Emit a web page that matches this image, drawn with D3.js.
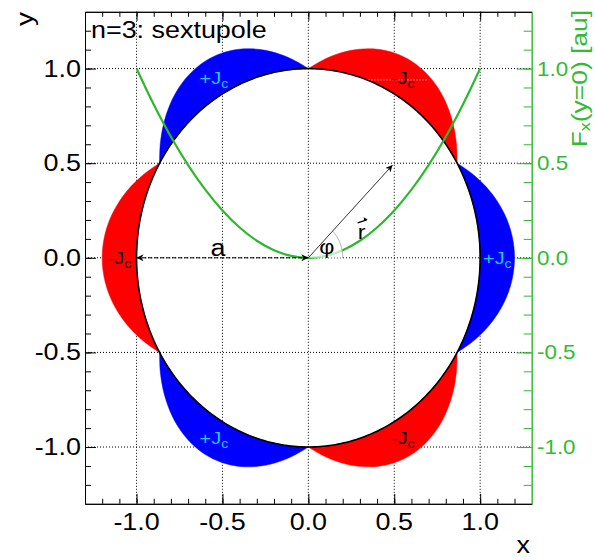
<!DOCTYPE html>
<html><head><meta charset="utf-8">
<script src="https://cdn.jsdelivr.net/npm/d3@7"></script>
<style>
body{margin:0;background:#fff;}
svg{display:block;}
text{font-family:"Liberation Sans",Arial,Helvetica,sans-serif;}
</style>
</head><body>
<svg id="c" width="595" height="560"></svg>
<script>
// ---------- data ----------
const xTickValues = [-1.0, -0.5, 0.0, 0.5, 1.0];
const xTickLabels = ["-1.0", "-0.5", "0.0", "0.5", "1.0"];
const yTickValues = [-1.0, -0.5, 0.0, 0.5, 1.0];
const yTickLabels = ["-1.0", "-0.5", "0.0", "0.5", "1.0"];
const fTickValues = [-1.0, -0.5, 0.0, 0.5, 1.0];
const fTickLabels = ["-1.0", "-0.5", "0.0", "0.5", "1.0"];
const minorTicks = [-1.2,-1.1,-1.0,-0.9,-0.8,-0.7,-0.6,-0.5,-0.4,-0.3,-0.2,-0.1,0,0.1,0.2,0.3,0.4,0.5,0.6,0.7,0.8,0.9,1.0,1.1,1.2];

// F_x(y=0) curve
const curveX = [-1.0,-0.9,-0.8,-0.7,-0.6,-0.5,-0.4,-0.3,-0.2,-0.1,0.0,0.1,0.2,0.3,0.4,0.5,0.6,0.7,0.8,0.9,1.0];
const curveF = [1.00,0.81,0.64,0.49,0.36,0.25,0.16,0.09,0.04,0.01,0.00,0.01,0.04,0.09,0.16,0.25,0.36,0.49,0.64,0.81,1.00];

// current lobes: thickness beyond the unit circle vs angular offset from lobe centre
const lobeOffsets   = [0, 5, 10, 15, 20, 25, 30];
const lobeThickness = [0.200, 0.193, 0.173, 0.141, 0.100, 0.052, 0.000];
const lobeCentres   = [0, 60, 120, 180, 240, 300];
const lobeSigns     = [1, -1, 1, -1, 1, -1];
const lobeLabels    = ["+J", "-J", "+J", "-J", "+J", "-J"];
const labelRadius   = 1.1;

const rArrowEnd = [0.49, 0.49];
const aArrow = [[0, 0], [-1, 0]];

// ---------- setup ----------
const L = 85, R = 531.7, T = 11.8, B = 503.8;
const SX = 1.17;
const GREEN = "#2db82d", GREEN_TXT = "#33bb33";
const svg = d3.select("#c");
const x = d3.scaleLinear().domain([-1.3, 1.3]).range([L, R]);
const y = d3.scaleLinear().domain([-1.3, 1.3]).range([B, T]);
const rad = d => d * Math.PI / 180;

function txt(parent, px, py, s, o = {}) {
  const g = parent.append("g")
    .attr("transform", `translate(${px},${py}) rotate(${o.rot || 0}) scale(${o.sx || SX},1)`);
  const t = g.append("text")
    .attr("text-anchor", o.anchor || "start")
    .attr("font-size", o.size || 23)
    .attr("fill", o.fill || "#000");
  if (s !== null) t.text(s);
  return t;
}

const defs = svg.append("defs");
defs.append("clipPath").attr("id", "clip").append("rect")
  .attr("x", L).attr("y", T).attr("width", R - L).attr("height", B - T);
defs.append("marker").attr("id", "ah").attr("viewBox", "0 0 10 10")
  .attr("refX", 10).attr("refY", 5).attr("markerWidth", 9).attr("markerHeight", 7)
  .attr("markerUnits", "userSpaceOnUse").attr("orient", "auto-start-reverse")
  .append("path").attr("d", "M0,0 L10,5 L0,10 L3,5 Z").attr("fill", "#000");

// ---------- grid ----------
const grid = svg.append("g").attr("stroke", "#000").attr("stroke-width", 1)
  .attr("stroke-dasharray", "1,2");
xTickValues.forEach(v => grid.append("line")
  .attr("x1", x(v)).attr("x2", x(v)).attr("y1", T).attr("y2", B));
yTickValues.forEach(v => grid.append("line")
  .attr("y1", y(v)).attr("y2", y(v)).attr("x1", L).attr("x2", R));

// ---------- lobes ----------
const plot = svg.append("g").attr("clip-path", "url(#clip)");
const lineXY = d3.line().x(d => x(d[0])).y(d => y(d[1]));
lobeCentres.forEach((c, k) => {
  const outer = [];
  for (let i = lobeOffsets.length - 1; i >= 0; i--) {
    const a = c - lobeOffsets[i], r = 1 + lobeThickness[i];
    outer.push([r * Math.cos(rad(a)), r * Math.sin(rad(a))]);
  }
  for (let i = 1; i < lobeOffsets.length; i++) {
    const a = c + lobeOffsets[i], r = 1 + lobeThickness[i];
    outer.push([r * Math.cos(rad(a)), r * Math.sin(rad(a))]);
  }
  const inner = d3.range(30, -30.5, -1).map(o => [Math.cos(rad(c + o)), Math.sin(rad(c + o))]);
  const dOuter = d3.line().x(d => x(d[0])).y(d => y(d[1])).curve(d3.curveCatmullRom.alpha(0.5))(outer);
  const dInner = lineXY(inner).replace(/^M/, "L");
  plot.append("path").attr("d", dOuter + dInner + "Z")
    .attr("fill", lobeSigns[k] > 0 ? "#0000ff" : "#ff0000")
    .attr("stroke", lobeSigns[k] > 0 ? "#0000ff" : "#ff0000").attr("stroke-width", 0.5);
});

// white dotted line in upper red lobe
plot.append("line").attr("x1", x(0.35)).attr("x2", x(0.70)).attr("y1", y(0.94)).attr("y2", y(0.94))
  .attr("stroke", "#fff").attr("stroke-width", 1).attr("stroke-dasharray", "1,2");

// unit circle
const circ = d3.range(0, 361, 1).map(a => [Math.cos(rad(a)), Math.sin(rad(a))]);
plot.append("path").attr("d", lineXY(circ)).attr("fill", "none")
  .attr("stroke", "#000").attr("stroke-width", 1.6);

// green curve
const cd = curveX.map((v, i) => [v, curveF[i]]);
plot.append("path")
  .attr("d", d3.line().x(d => x(d[0])).y(d => y(d[1])).curve(d3.curveCatmullRom)(cd))
  .attr("fill", "none").attr("stroke", GREEN).attr("stroke-width", 2.2);

// angle wedge
const wedge = [[0, 0]].concat(d3.range(0, 45.5, 1).map(a => [0.2 * Math.cos(rad(a)), 0.2 * Math.sin(rad(a))]));
plot.append("path").attr("d", lineXY(wedge) + "Z").attr("fill", "#fff").attr("fill-opacity", 0.7)
  .attr("stroke", "none");
plot.append("path").attr("d", lineXY(wedge.slice(1))).attr("fill", "none")
  .attr("stroke", "#aaa").attr("stroke-width", 1);

// arrows
plot.append("line").attr("x1", x(aArrow[0][0])).attr("y1", y(aArrow[0][1]))
  .attr("x2", x(aArrow[1][0])).attr("y2", y(aArrow[1][1]))
  .attr("stroke", "#000").attr("stroke-width", 1).attr("stroke-dasharray", "4,2")
  .attr("marker-start", "url(#ah)").attr("marker-end", "url(#ah)");
plot.append("line").attr("x1", x(0)).attr("y1", y(0))
  .attr("x2", x(rArrowEnd[0])).attr("y2", y(rArrowEnd[1]))
  .attr("stroke", "#333").attr("stroke-width", 1).attr("marker-end", "url(#ah)");

// labels
lobeCentres.forEach((c, k) => {
  const px = x(labelRadius * Math.cos(rad(c))), py = y(labelRadius * Math.sin(rad(c)));
  const t = txt(svg, px, py + 6, null, { size: 17, anchor: "middle",
    fill: lobeSigns[k] > 0 ? "#22c8ff" : "#000" });
  t.append("tspan").text(lobeLabels[k]);
  t.append("tspan").attr("font-size", 12).attr("dy", 4).text("c");
});
txt(svg, x(-0.526), y(0.01), "a", { size: 23, anchor: "middle" });
txt(svg, x(0.107), y(0.018), "φ", { size: 20, anchor: "middle" });
txt(svg, x(0.31), y(0.10), "r", { size: 20, anchor: "middle" });
{
  const rx = x(0.31), ry = y(0.10);
  svg.append("line").attr("x1", rx - 4).attr("y1", ry - 16).attr("x2", rx + 5).attr("y2", ry - 19)
    .attr("stroke", "#000").attr("stroke-width", 1.2);
  svg.append("path").attr("d", `M${rx + 6},${ry - 19.5} l-4,-2.2 l0.8,3.8 Z`).attr("fill", "#000");
}
txt(svg, 91, 38, "n=3: sextupole", { size: 23 });

// ---------- axes ----------
function styleAxis(g, color) {
  g.selectAll("path,line").attr("stroke", color).attr("stroke-width", 1);
  g.selectAll("text").remove();
}
const bMin = svg.append("g").attr("transform", `translate(0,${B})`)
  .call(d3.axisBottom(x).tickValues(minorTicks).tickSizeInner(-5).tickSizeOuter(0).tickFormat(""));
styleAxis(bMin, "#000");
const tMin = svg.append("g").attr("transform", `translate(0,${T})`)
  .call(d3.axisTop(x).tickValues(minorTicks).tickSizeInner(-5).tickSizeOuter(0).tickFormat(""));
styleAxis(tMin, "#000");
const lMin = svg.append("g").attr("transform", `translate(${L},0)`)
  .call(d3.axisLeft(y).tickValues(minorTicks).tickSizeInner(-6).tickSizeOuter(0).tickFormat(""));
styleAxis(lMin, "#000");
const rMin = svg.append("g").attr("transform", `translate(${R},0)`)
  .call(d3.axisRight(y).tickValues(minorTicks).tickSizeInner(-8).tickSizeOuter(0).tickFormat(""));
styleAxis(rMin, GREEN);

const bMaj = svg.append("g").attr("transform", `translate(0,${B})`)
  .call(d3.axisBottom(x).tickValues(xTickValues).tickSizeInner(-10).tickSizeOuter(0).tickFormat(""));
styleAxis(bMaj, "#000");
xTickValues.forEach((v, i) => txt(svg, x(v), 530, xTickLabels[i], { anchor: "middle" }));
const tMaj = svg.append("g").attr("transform", `translate(0,${T})`)
  .call(d3.axisTop(x).tickValues(xTickValues).tickSizeInner(-9).tickSizeOuter(0).tickFormat(""));
styleAxis(tMaj, "#000");
const lMaj = svg.append("g").attr("transform", `translate(${L},0)`)
  .call(d3.axisLeft(y).tickValues(yTickValues).tickSizeInner(-11).tickSizeOuter(0).tickFormat(""));
styleAxis(lMaj, "#000");
yTickValues.forEach((v, i) => txt(svg, 81, y(v) + 8, yTickLabels[i], { anchor: "end" }));
const rMaj = svg.append("g").attr("transform", `translate(${R},0)`)
  .call(d3.axisRight(y).tickValues(fTickValues).tickSizeInner(-15).tickSizeOuter(0).tickFormat(""));
styleAxis(rMaj, GREEN);
fTickValues.forEach((v, i) => txt(svg, 537, y(v) + 7, fTickLabels[i], { fill: GREEN_TXT, size: 20, sx: 1.12 }));

// axis titles
txt(svg, 530, 553, "x", { anchor: "end", size: 23 });
txt(svg, 33, 12, "y", { anchor: "end", size: 24, rot: -90 });
{
  const t = txt(svg, 587, 10, null, { anchor: "end", size: 22, rot: -90, fill: GREEN_TXT, sx: 1.2 });
  t.append("tspan").text("F");
  t.append("tspan").attr("font-size", 15).attr("dy", 3).text("x");
  t.append("tspan").attr("dy", -3).text("(y=0) [au]");
}
</script>
</body></html>
